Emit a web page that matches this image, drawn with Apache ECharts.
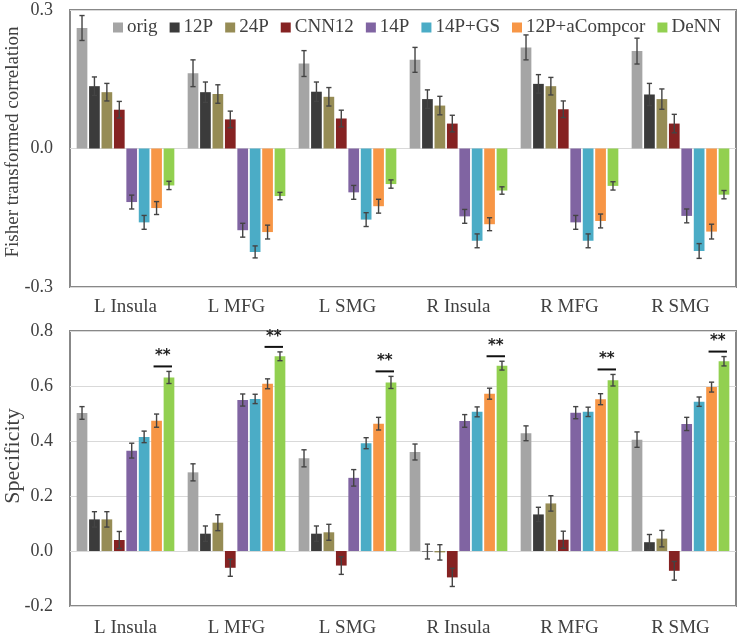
<!DOCTYPE html>
<html><head><meta charset="utf-8">
<script src="https://cdn.jsdelivr.net/npm/echarts@6/dist/echarts.min.js"></script>
<style>html,body{margin:0;padding:0;background:#fff}#c{width:741px;height:639px}</style>
</head><body><div id="c"></div>
<script>
const categories = ['L Insula','L MFG','L SMG','R Insula','R MFG','R SMG'];
const seriesNames = ['orig','12P','24P','CNN12','14P','14P+GS','12P+aCompcor','DeNN'];
const colors = ['#a5a5a5','#3b3b3b','#968c55','#852222','#8064a2','#4bacc6','#f79646','#92d050'];
const topTitle = 'Fisher transformed correlation';
const botTitle = 'Specificity';

// Top panel: Fisher transformed correlation (mean, error)
const fcOrig = [0.261,0.163,0.184,0.192,0.219,0.211];
const fcOrigErr = [0.027,0.029,0.028,0.027,0.027,0.028];
const fc12P = [0.135,0.122,0.123,0.107,0.140,0.117];
const fc12PErr = [0.020,0.022,0.021,0.020,0.020,0.024];
const fc24P = [0.122,0.118,0.112,0.093,0.135,0.107];
const fc24PErr = [0.019,0.020,0.020,0.020,0.019,0.022];
const fcCNN = [0.084,0.063,0.065,0.054,0.085,0.054];
const fcCNNErr = [0.018,0.018,0.018,0.018,0.018,0.020];
const fc14P = [-0.116,-0.177,-0.095,-0.147,-0.160,-0.146];
const fc14PErr = [0.015,0.015,0.015,0.015,0.015,0.015];
const fcGS = [-0.160,-0.224,-0.154,-0.200,-0.200,-0.222];
const fcGSErr = [0.015,0.013,0.015,0.015,0.015,0.016];
const fcComp = [-0.129,-0.181,-0.125,-0.164,-0.157,-0.180];
const fcCompErr = [0.014,0.015,0.015,0.014,0.015,0.016];
const fcDeNN = [-0.080,-0.103,-0.077,-0.091,-0.081,-0.100];
const fcDeNNErr = [0.009,0.008,0.009,0.008,0.009,0.009];

// Bottom panel: Specificity (mean, error)
const spOrig = [0.502,0.286,0.337,0.360,0.428,0.405];
const spOrigErr = [0.023,0.031,0.031,0.029,0.027,0.028];
const sp12P = [0.115,0.063,0.063,-0.002,0.133,0.032];
const sp12PErr = [0.028,0.028,0.028,0.027,0.026,0.028];
const sp24P = [0.115,0.103,0.068,-0.005,0.173,0.045];
const sp24PErr = [0.028,0.029,0.029,0.028,0.028,0.030];
const spCNN = [0.040,-0.061,-0.053,-0.096,0.041,-0.072];
const spCNNErr = [0.031,0.031,0.032,0.033,0.031,0.034];
const sp14P = [0.365,0.549,0.266,0.473,0.503,0.462];
const sp14PErr = [0.027,0.022,0.030,0.023,0.022,0.024];
const spGS = [0.415,0.553,0.392,0.506,0.506,0.543];
const spGSErr = [0.021,0.017,0.020,0.018,0.017,0.017];
const spComp = [0.474,0.608,0.463,0.572,0.552,0.596];
const spCompErr = [0.024,0.018,0.023,0.020,0.020,0.018];
const spDeNN = [0.631,0.708,0.613,0.674,0.621,0.690];
const spDeNNErr = [0.022,0.016,0.022,0.016,0.021,0.017];
const spSignificant = ['**','**','**','**','**','**'];

const topTicks = {min:-0.3, max:0.3, interval:0.3};
const botTicks = {min:-0.2, max:0.8, interval:0.2};

const fcVals = [fcOrig,fc12P,fc24P,fcCNN,fc14P,fcGS,fcComp,fcDeNN];
const fcErrs = [fcOrigErr,fc12PErr,fc24PErr,fcCNNErr,fc14PErr,fcGSErr,fcCompErr,fcDeNNErr];
const spVals = [spOrig,sp12P,sp24P,spCNN,sp14P,spGS,spComp,spDeNN];
const spErrs = [spOrigErr,sp12PErr,sp24PErr,spCNNErr,sp14PErr,spGSErr,spCompErr,spDeNNErr];

const N = seriesNames.length;
const CAT_GAP = 0.12, BAR_GAP = 0.16;
const FONT = 'Liberation Serif';
const TXT = '#404040';

function barCenter(api, cat, s) {
  const bandW = api.size([1, 0])[0];
  const usable = bandW * (1 - CAT_GAP);
  const bw = usable / (N + (N - 1) * BAR_GAP);
  return api.coord([cat, 0])[0] - usable / 2 + s * bw * (1 + BAR_GAP) + bw / 2;
}

function errSeries(vals, errs, idx) {
  const data = [];
  vals.forEach((arr, s) => arr.forEach((v, c) => data.push([c, s, v, errs[s][c]])));
  return {
    type: 'custom', xAxisIndex: idx, yAxisIndex: idx, z: 5, silent: true,
    encode: {x: 0, y: 2},
    data,
    renderItem(params, api) {
      const c = api.value(0), s = api.value(1), v = api.value(2), e = api.value(3);
      const x = barCenter(api, c, s);
      const y1 = api.coord([c, v + e])[1], y2 = api.coord([c, v - e])[1];
      const st = {stroke: '#444', lineWidth: 1.4};
      const cw = 2.6;
      return {type: 'group', children: [
        {type: 'line', shape: {x1: x, y1: y1, x2: x, y2: y2}, style: st},
        {type: 'line', shape: {x1: x - cw, y1: y1, x2: x + cw, y2: y1}, style: st},
        {type: 'line', shape: {x1: x - cw, y1: y2, x2: x + cw, y2: y2}, style: st}
      ]};
    }
  };
}

const sigData = categories.map((c, i) => [i, spDeNN[i], spDeNNErr[i], spSignificant[i]]);
const sigSeries = {
  type: 'custom', xAxisIndex: 1, yAxisIndex: 1, z: 6, silent: true,
  encode: {x: 0, y: 1},
  data: sigData,
  renderItem(params, api) {
    const c = api.value(0), v = api.value(1), e = api.value(2);
    const xa = barCenter(api, c, 6) - 3, xb = barCenter(api, c, 7) + 3;
    const y = api.coord([c, v + e])[1] - 5;
    return {type: 'group', children: [
      {type: 'line', shape: {x1: xa, y1: y, x2: xb, y2: y}, style: {stroke: '#111', lineWidth: 2}},
      {type: 'text', x: (xa + xb) / 2, y: y - 10, style: {text: sigData[params.dataIndex][3], fill: '#222',
        font: 'bold 15px "DejaVu Sans"', align: 'center', verticalAlign: 'middle'}}
    ]};
  }
};

const series = [];
[fcVals, spVals].forEach((vals, idx) => {
  vals.forEach((arr, s) => {
    series.push({
      name: seriesNames[s], type: 'bar', xAxisIndex: idx, yAxisIndex: idx,
      data: arr, barGap: (BAR_GAP * 100) + '%', barCategoryGap: (CAT_GAP * 100) + '%',
      itemStyle: {color: colors[s]}, silent: true
    });
  });
});
series.push(errSeries(fcVals, fcErrs, 0));
series.push(errSeries(spVals, spErrs, 1));
series.push(sigSeries);

function xAx(idx, margin) {
  return {type: 'category', gridIndex: idx, data: categories,
    axisLine: {show: false}, axisTick: {show: false}, splitLine: {show: false},
    axisLabel: {margin, color: TXT, fontFamily: FONT, fontSize: 19}};
}
function yAx(idx, t) {
  return {type: 'value', gridIndex: idx, min: t.min, max: t.max, interval: t.interval,
    axisLine: {show: false}, axisTick: {show: false},
    splitLine: {show: true, lineStyle: {color: '#d9d9d9', width: 1}},
    axisLabel: {margin: 17, color: TXT, fontFamily: FONT, fontSize: 18, formatter: v => v.toFixed(1)}};
}

const chart = echarts.init(document.getElementById('c'), null, {renderer: 'canvas'});
chart.setOption({
  backgroundColor: '#fff',
  animation: false,
  legend: {
    data: seriesNames, left: 108, top: 13, icon: 'rect', itemWidth: 10, itemHeight: 10, itemGap: 12,
    textStyle: {fontFamily: FONT, fontSize: 19, color: TXT, padding: [0, 0, 0, -1]}
  },
  grid: [
    {left: 70, right: 5, top: 10, height: 277, show: true, borderColor: '#888', borderWidth: 2},
    {left: 70, right: 5, top: 331, height: 275, show: true, borderColor: '#888', borderWidth: 2}
  ],
  graphic: [
    {type: 'text', x: 13, y: 142, rotation: Math.PI / 2, style: {text: topTitle, fill: TXT,
      font: '19px "Liberation Serif"', align: 'center', verticalAlign: 'middle'}},
    {type: 'text', x: 13, y: 456, rotation: Math.PI / 2, style: {text: botTitle, fill: TXT,
      font: '22px "Liberation Serif"', align: 'center', verticalAlign: 'middle'}}
  ],
  xAxis: [xAx(0, 11), xAx(1, 13)],
  yAxis: [yAx(0, topTicks), yAx(1, botTicks)],
  series
});
</script></body></html>
